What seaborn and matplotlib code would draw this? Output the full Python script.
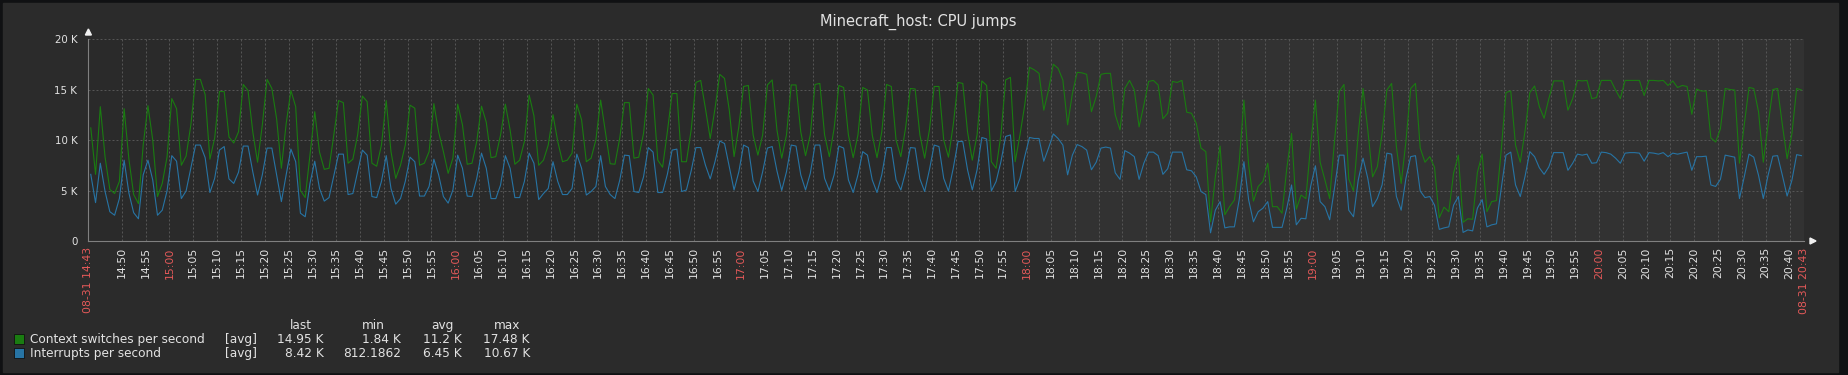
import numpy as np
import pandas as pd
import seaborn as sns
import matplotlib.pyplot as plt
import matplotlib.dates as mdates
from matplotlib.patches import Rectangle, Polygon

W, H = 1849, 375

# one value per minute, in thousands (14:43 -> 20:43)
ctx_switches = [
    11.2, 6.6, 13.3, 8.3, 5.1, 4.7, 5.9, 13.1, 8.1, 4.6,
    3.7, 9.5, 13.4, 10.0, 4.4, 5.7, 8.3, 14.1, 13.1, 7.5,
    8.4, 11.5, 16.0, 16.0, 14.5, 8.1, 10.2, 14.8, 14.8, 10.3,
    9.7, 10.8, 15.5, 14.9, 10.8, 7.8, 11.5, 16.0, 15.1, 12.1,
    7.2, 11.6, 14.9, 13.3, 5.0, 4.3, 8.5, 12.8, 8.8, 7.1,
    7.2, 10.5, 13.9, 13.7, 7.7, 8.1, 10.5, 14.35, 13.8, 7.7,
    7.4, 9.5, 13.9, 8.85, 6.2, 7.5, 9.5, 13.45, 13.15, 7.5,
    7.7, 8.85, 13.6, 10.8, 8.85, 6.7, 8.2, 13.55, 11.5, 7.6,
    7.7, 9.85, 13.35, 11.75, 8.25, 8.35, 10.5, 13.55, 11.0, 7.6,
    8.0, 9.85, 14.45, 12.4, 7.5, 8.0, 9.5, 12.5, 9.85, 7.85,
    8.0, 8.7, 13.55, 12.0, 7.85, 8.2, 10.0, 13.95, 10.8, 7.65,
    7.6, 10.15, 13.7, 13.7, 8.2, 8.3, 10.65, 15.1, 14.45, 8.0,
    7.3, 10.8, 14.6, 14.6, 7.85, 7.85, 11.0, 15.7, 15.9, 13.1,
    10.15, 13.1, 16.5, 16.1, 12.95, 8.35, 11.3, 15.3, 15.4, 10.5,
    8.5, 10.5, 15.45, 15.95, 11.0, 8.2, 10.5, 15.45, 15.45, 10.8,
    8.45, 10.5, 15.5, 15.6, 10.5, 8.35, 11.15, 15.4, 15.2, 10.5,
    8.25, 10.5, 15.2, 14.95, 10.5, 8.25, 10.8, 15.5, 15.3, 10.0,
    8.35, 11.2, 15.1, 15.05, 10.5, 8.2, 11.0, 15.3, 15.3, 10.0,
    8.3, 11.5, 15.7, 15.6, 10.8, 8.0, 10.5, 15.85, 15.4, 7.85,
    7.2, 10.5, 15.95, 16.2, 7.85, 10.5, 13.45, 17.2, 16.95, 16.6,
    12.95, 14.95, 17.5, 17.1, 15.95, 11.5, 14.6, 16.7, 16.65, 16.5,
    12.8, 14.3, 16.5, 16.6, 16.6, 12.5, 11.0, 15.1, 15.9, 14.95,
    11.3, 13.45, 15.8, 15.9, 15.45, 12.1, 12.65, 15.8, 15.7, 15.9,
    12.75, 12.65, 11.65, 9.2, 8.85, 1.9, 6.35, 9.4, 2.6, 3.4,
    4.05, 7.7, 13.95, 7.5, 3.95, 5.4, 5.9, 7.7, 3.4, 3.4,
    2.75, 7.2, 10.65, 3.15, 4.55, 4.2, 9.5, 13.95, 7.8, 6.05,
    4.2, 9.85, 14.8, 15.5, 6.15, 4.95, 10.65, 15.1, 11.0, 6.35,
    7.35, 10.65, 14.95, 15.6, 9.35, 5.7, 9.85, 15.1, 15.6, 9.2,
    7.8, 8.35, 7.3, 2.3, 3.35, 2.9, 6.7, 8.5, 1.85, 2.2,
    2.15, 6.8, 8.6, 2.9, 3.9, 4.0, 9.0, 14.7, 14.85, 9.5,
    7.8, 10.9, 14.7, 15.35, 13.3, 12.15, 14.1, 15.85, 15.85, 15.85,
    12.95, 14.1, 15.9, 15.85, 15.9, 14.1, 14.2, 15.9, 15.9, 15.9,
    14.95, 14.1, 15.9, 15.9, 15.9, 15.9, 14.4, 15.9, 15.9, 15.85,
    15.9, 15.4, 15.85, 15.2, 15.4, 15.3, 12.55, 15.05, 14.85, 14.85,
    10.2, 9.8, 11.1, 15.1, 15.0, 14.95, 7.7, 11.5, 15.2, 15.1,
    12.8, 7.8, 11.5, 15.0, 15.1, 11.5, 8.15, 10.6, 15.1, 14.95,
]
interrupts = [
    6.6, 3.8, 7.7, 4.9, 2.9, 2.55, 4.2, 8.0, 4.75, 2.8,
    2.2, 6.55, 8.0, 6.05, 2.55, 3.05, 4.95, 8.45, 7.9, 4.2,
    4.95, 7.2, 9.5, 9.5, 8.25, 4.8, 6.2, 9.0, 9.35, 6.15,
    5.7, 6.8, 9.4, 9.4, 6.85, 4.55, 6.55, 9.2, 9.2, 6.55,
    3.9, 6.55, 9.1, 7.85, 2.75, 2.4, 5.7, 7.9, 5.2, 3.95,
    4.3, 6.45, 8.6, 8.6, 4.6, 4.7, 6.85, 9.0, 8.5, 4.4,
    4.3, 5.9, 8.45, 5.2, 3.65, 4.2, 5.9, 8.3, 7.85, 4.45,
    4.45, 5.4, 8.1, 6.55, 4.4, 3.75, 5.05, 8.5, 7.2, 4.45,
    4.4, 6.2, 8.7, 7.2, 4.2, 4.2, 5.55, 8.45, 7.2, 4.3,
    4.3, 5.9, 8.7, 7.7, 4.1, 4.7, 5.2, 7.85, 5.9, 4.6,
    4.6, 5.2, 8.6, 7.2, 4.55, 4.9, 5.4, 8.45, 5.4, 4.6,
    4.2, 6.0, 8.5, 8.45, 4.9, 4.8, 6.35, 9.25, 8.8, 4.8,
    4.8, 6.6, 9.0, 9.1, 4.9, 5.05, 6.95, 9.25, 9.25, 7.5,
    6.15, 7.85, 9.9, 9.65, 7.35, 5.05, 6.85, 9.5, 9.25, 5.95,
    4.9, 6.85, 9.2, 9.35, 6.95, 5.0, 6.85, 9.5, 9.4, 6.55,
    5.05, 6.7, 9.5, 9.5, 6.2, 5.0, 6.55, 9.4, 9.2, 6.05,
    4.8, 6.55, 8.85, 8.5, 6.05, 4.8, 6.55, 9.25, 9.25, 6.05,
    5.05, 6.85, 9.25, 9.2, 6.15, 4.9, 7.05, 9.5, 9.35, 6.2,
    4.95, 7.2, 9.85, 9.85, 7.05, 5.05, 7.05, 10.25, 10.1, 4.95,
    5.9, 7.85, 10.35, 10.5, 4.9, 6.2, 8.35, 10.25, 10.15, 10.15,
    7.9, 9.2, 10.6, 10.15, 9.5, 6.55, 8.5, 9.55, 9.35, 9.0,
    7.05, 7.8, 9.2, 9.3, 9.2, 6.75, 6.1, 8.95, 8.7, 8.35,
    6.1, 7.7, 8.8, 8.8, 8.45, 6.6, 7.15, 8.8, 8.8, 8.8,
    7.05, 6.95, 6.35, 4.9, 4.6, 0.81, 3.05, 3.9, 1.3, 1.4,
    1.4, 4.05, 7.85, 4.05, 1.9, 2.9, 3.25, 3.9, 1.35, 1.35,
    1.35, 3.25, 5.55, 1.6, 2.25, 2.2, 5.4, 7.45, 3.9, 3.4,
    2.1, 5.2, 8.5, 8.5, 3.05, 2.4, 6.05, 8.2, 6.2, 3.4,
    4.2, 5.55, 8.7, 8.6, 4.4, 3.05, 6.2, 8.35, 8.45, 4.95,
    4.3, 4.4, 3.55, 1.15, 1.3, 1.4, 3.55, 4.4, 0.85, 1.1,
    1.0, 3.25, 4.1, 1.4, 1.6, 1.7, 5.2, 8.5, 8.8, 5.55,
    4.4, 6.4, 8.85, 8.35, 7.25, 6.6, 7.35, 8.75, 8.75, 8.75,
    7.0, 7.7, 8.6, 8.5, 8.6, 7.7, 7.75, 8.8, 8.75, 8.6,
    8.2, 7.7, 8.7, 8.75, 8.75, 8.7, 7.9, 8.75, 8.7, 8.6,
    8.75, 8.35, 8.7, 8.6, 8.7, 8.8, 7.0, 8.35, 8.35, 8.4,
    5.55, 5.4, 6.1, 8.5, 8.4, 8.3, 4.2, 6.35, 8.6, 8.3,
    6.5, 4.2, 6.5, 8.4, 8.45, 6.5, 4.45, 6.0, 8.55, 8.45,
]

series_names = ['Context switches per second', 'Interrupts per second']
series_colors = ['#1a7c11', '#2774a4']
legend_func = ['[avg]', '[avg]']
legend_cols = ['last', 'min', 'avg', 'max']
legend_vals = [['14.95 K', '1.84 K', '11.2 K', '17.48 K'],
               ['8.42 K', '812.1862', '6.45 K', '10.67 K']]
y_ticks = [0, 5000, 10000, 15000, 20000]
y_labels = ['0', '5 K', '10 K', '15 K', '20 K']
title = 'Minecraft_host: CPU jumps'
start = pd.Timestamp('2023-08-31 14:43')
end = pd.Timestamp('2023-08-31 20:43')
work_end = pd.Timestamp('2023-08-31 18:00')

TXT = '#e2e2e2'
RED = '#e45959'


def fx(x):
    return x / W


def fy(y):
    return 1 - y / H


n = len(ctx_switches)
times = start + pd.to_timedelta(np.arange(n) + 0.5, unit='min')
df = pd.DataFrame({
    'time': np.concatenate([times, times]),
    'value': np.array(ctx_switches + interrupts) * 1000,
    'series': [series_names[0]] * n + [series_names[1]] * len(interrupts),
})

fig = plt.figure(figsize=(W / 100, H / 100), dpi=100, facecolor='#101113')
fig.patches.append(Rectangle((fx(3), fy(372)), fx(1835), 369 / H,
                             transform=fig.transFigure, color='#2b2b2b', zorder=-10))

ax = fig.add_axes([fx(88.4), fy(241), fx(1803.8 - 88.4), 202 / H])
ax.set_facecolor('#2a2a2a')
ax.axvspan(work_end, end, color='#323232', lw=0, zorder=0)

sns.lineplot(data=df, x='time', y='value', hue='series', palette=series_colors,
             legend=False, lw=0.8, estimator=None, ax=ax)

ax.set_xlim(start, end)
ax.set_ylim(0, 20000)
ax.set_xlabel('')
ax.set_ylabel('')

# x ticks every 5 minutes plus the two ends
xt = [start] + list(pd.date_range('2023-08-31 14:50', '2023-08-31 20:40', freq='5min')) + [end]
xl = []
for t in xt:
    xl.append(t.strftime('%m-%d %H:%M') if t in (start, end) else t.strftime('%H:%M'))
ax.set_xticks(mdates.date2num(xt))
ax.set_xticklabels(xl, rotation=90, fontsize=7.8)
for t, lab in zip(xt, ax.get_xticklabels()):
    lab.set_color(RED if (t in (start, end) or t.minute == 0) else TXT)

ax.set_yticks(y_ticks)
ax.set_yticklabels(y_labels, fontsize=7.4, color=TXT)
ax.tick_params(axis='x', length=0, pad=4.5)
ax.tick_params(axis='y', length=0, pad=8)

ax.grid(True, ls=(0, (2, 2)), color='#555555', lw=0.72)
ax.set_axisbelow(True)
for s in ['top', 'right']:
    ax.spines[s].set_visible(False)
for s in ['left', 'bottom']:
    ax.spines[s].set_color('#808080')
    ax.spines[s].set_linewidth(0.8)

# axis arrows
fig.patches.append(Polygon([(fx(85.4), fy(35)), (fx(91.4), fy(35)), (fx(88.4), fy(29))],
                           transform=fig.transFigure, color='#f0f0f0'))
fig.patches.append(Polygon([(fx(1810), fy(238)), (fx(1810), fy(244)), (fx(1816), fy(241))],
                           transform=fig.transFigure, color='#f0f0f0'))

fig.text(fx(918), fy(22), title, ha='center', va='center', fontsize=10.5, color=TXT)

# legend table
head_x = [300.5, 372.9, 442.9, 506.9]
val_x = [323.4, 401.3, 461.4, 529.9]
for hx, h in zip(head_x, legend_cols):
    fig.text(fx(hx), fy(325.7), h, ha='center', va='center', fontsize=8.7, color=TXT)
for k, name in enumerate(series_names):
    yy = 339.3 + 14 * k
    fig.patches.append(Rectangle((fx(13.8), fy(yy + 5)), fx(10), 10 / H,
                                 transform=fig.transFigure, facecolor=series_colors[k],
                                 edgecolor='#111111', lw=0.6))
    fig.text(fx(29.7), fy(yy), name, ha='left', va='center', fontsize=8.7, color=TXT)
    fig.text(fx(225.4), fy(yy), legend_func[k], ha='left', va='center', fontsize=8.7, color=TXT)
    for vx, v in zip(val_x, legend_vals[k]):
        fig.text(fx(vx), fy(yy), v, ha='right', va='center', fontsize=8.7, color=TXT)

fig.savefig('out.png', dpi=100, facecolor=fig.get_facecolor())
